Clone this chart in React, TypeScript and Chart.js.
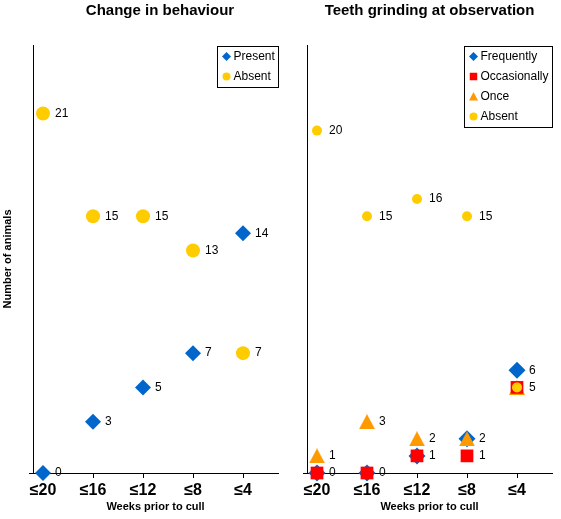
import { useEffect, useRef } from "react"
import { Chart, registerables } from "chart.js"

Chart.register(...registerables)

const FONT = "'Liberation Sans', Arial, Helvetica, sans-serif"
Chart.defaults.font.family = FONT
Chart.defaults.color = "#000"

const weeks = ["≤20", "≤16", "≤12", "≤8", "≤4"]

// Change in behaviour
const behaviourPresent = [0, 3, 5, 7, 14]
const behaviourAbsent = [21, 15, 15, 13, 7]

// Teeth grinding at observation
const grindingFrequently = [0, 0, 1, 2, 6]
const grindingOccasionally = [0, 0, 1, 1, 5]
const grindingOnce = [1, 3, 2, 2, 5]
const grindingAbsent = [20, 15, 16, 15, 5]

const yMax = 25

type Marker = "diamond" | "square" | "triangle" | "circle"

interface Series {
  label: string
  values: number[]
  color: string
  marker: Marker
  radius: number
  z: number // lower = drawn on top
}

const BLUE = "#0066CC"
const RED = "#FF0000"
const ORANGE = "#FF9900"
const YELLOW = "#FFCC00"

const behaviourSeries: Series[] = [
  { label: "Present", values: behaviourPresent, color: BLUE, marker: "diamond", radius: 8, z: 1 },
  { label: "Absent", values: behaviourAbsent, color: YELLOW, marker: "circle", radius: 7, z: 0 },
]

const grindingSeries: Series[] = [
  { label: "Frequently", values: grindingFrequently, color: BLUE, marker: "diamond", radius: 8.5, z: 3 },
  { label: "Occasionally", values: grindingOccasionally, color: RED, marker: "square", radius: 9, z: 1 },
  { label: "Once", values: grindingOnce, color: ORANGE, marker: "triangle", radius: 8.5, z: 2 },
  { label: "Absent", values: grindingAbsent, color: YELLOW, marker: "circle", radius: 5, z: 0 },
]

// centred triangle, so the point sits in the middle of the glyph
function triangleImage(w: number, h: number, color: string) {
  const c = document.createElement("canvas")
  c.width = w
  c.height = h
  const g = c.getContext("2d")!
  g.fillStyle = color
  g.beginPath()
  g.moveTo(w / 2, 0)
  g.lineTo(w, h)
  g.lineTo(0, h)
  g.closePath()
  g.fill()
  return c
}

function drawLegendMarker(ctx: CanvasRenderingContext2D, marker: Marker, x: number, y: number, color: string) {
  ctx.fillStyle = color
  ctx.beginPath()
  if (marker === "diamond") {
    ctx.moveTo(x, y - 4.5)
    ctx.lineTo(x + 4.5, y)
    ctx.lineTo(x, y + 4.5)
    ctx.lineTo(x - 4.5, y)
  } else if (marker === "square") {
    ctx.rect(x - 3.75, y - 3.75, 7.5, 7.5)
  } else if (marker === "triangle") {
    ctx.moveTo(x, y - 4.5)
    ctx.lineTo(x + 4.5, y + 4)
    ctx.lineTo(x - 4.5, y + 4)
  } else {
    ctx.arc(x, y, 4, 0, Math.PI * 2)
  }
  ctx.closePath()
  ctx.fill()
}

interface PanelProps {
  title: string
  titleShift: number
  yTitle?: string
  series: Series[]
  width: number
  height: number
  yAxisWidth: number
  rightPad: number
}

function Panel({ title, titleShift, yTitle, series, width, height, yAxisWidth, rightPad }: PanelProps) {
  const canvasRef = useRef<HTMLCanvasElement>(null)

  useEffect(() => {
    if (!canvasRef.current) return
    const ctx = canvasRef.current.getContext("2d")
    if (!ctx) return

    const pointStyles = series.map((s) => {
      if (s.marker === "triangle") return triangleImage(16, 15, s.color)
      if (s.marker === "diamond") return "rectRot"
      if (s.marker === "square") return "rect"
      return "circle"
    })

    const overlay = {
      id: "overlay",
      afterDatasetsDraw(chart: any) {
        const c = chart.ctx
        c.save()
        c.font = `12px ${FONT}`
        c.fillStyle = "#000"
        c.textAlign = "left"
        c.textBaseline = "middle"
        // one value label per distinct value in each week group
        weeks.forEach((_, i) => {
          const seen = new Set<number>()
          chart.data.datasets.forEach((ds: any, d: number) => {
            const v = ds.data[i].y
            if (seen.has(v)) return
            seen.add(v)
            const el = chart.getDatasetMeta(d).data[i]
            c.fillText(String(v), el.x + 12, el.y)
          })
        })
        c.restore()
      },
      afterDraw(chart: any) {
        const c = chart.ctx
        const area = chart.chartArea
        c.save()

        // title
        c.font = `bold 15px ${FONT}`
        c.fillStyle = "#000"
        c.textAlign = "center"
        c.textBaseline = "alphabetic"
        c.fillText(title, (area.left + area.right) / 2 + titleShift, 15)

        // x axis stub to the left of the y axis
        c.strokeStyle = "#000"
        c.lineWidth = 1
        c.beginPath()
        c.moveTo(area.left - 4, Math.round(area.bottom) + 0.5)
        c.lineTo(area.left, Math.round(area.bottom) + 0.5)
        c.stroke()

        // legend box
        c.font = `12px ${FONT}`
        const textW = Math.max(...series.map((s) => c.measureText(s.label).width))
        const boxW = Math.round(16 + textW + 4)
        const boxH = 20 * series.length + 1
        const right = Math.round(area.right) + 0.5
        const left = right - boxW
        const top = Math.round(area.top) + 1.5
        c.fillStyle = "#fff"
        c.fillRect(left, top, boxW, boxH)
        c.strokeRect(left, top, boxW, boxH)
        c.textAlign = "left"
        c.textBaseline = "middle"
        series.forEach((s, i) => {
          const y = top + 10 + 20 * i
          drawLegendMarker(c, s.marker, left + 9, y, s.color)
          c.fillStyle = "#000"
          c.fillText(s.label, left + 16, y)
        })
        c.restore()
      },
    }

    const chart = new Chart(ctx, {
      type: "scatter",
      data: {
        datasets: series.map((s, si) => ({
          label: s.label,
          data: s.values.map((v, i) => ({ x: i, y: v })),
          backgroundColor: s.color,
          borderWidth: 0,
          pointStyle: pointStyles[si] as any,
          pointRadius: s.radius,
          pointHoverRadius: s.radius,
          order: s.z,
          clip: false as any,
        })),
      },
      options: {
        responsive: true,
        maintainAspectRatio: false,
        animation: false,
        events: [],
        layout: { padding: { top: 45, right: rightPad, left: 0, bottom: 0 } },
        plugins: {
          legend: { display: false },
          tooltip: { enabled: false },
          title: { display: false },
        },
        scales: {
          x: {
            type: "linear",
            min: -0.2,
            max: 4.7,
            afterBuildTicks: (scale: any) => {
              scale.ticks = weeks.map((_, i) => ({ value: i }))
            },
            afterFit: (scale: any) => {
              scale.height = 46
            },
            ticks: {
              callback: (value: any) => weeks[value as number],
              font: { size: 16, weight: "bold" },
              color: "#000",
              padding: 3,
              maxRotation: 0,
              autoSkip: false,
            },
            grid: { drawOnChartArea: false, drawTicks: true, tickLength: 5, color: "#000" },
            border: { display: true, color: "#000", width: 1 },
            title: {
              display: true,
              text: "Weeks prior to cull",
              font: { size: 11, weight: "bold" },
              color: "#000",
              padding: { top: 0, bottom: 5 },
            },
          },
          y: {
            min: 0,
            max: yMax,
            ticks: { display: false },
            grid: { display: false },
            border: { display: true, color: "#000", width: 1 },
            afterFit: (scale: any) => {
              scale.width = yAxisWidth
            },
            title: {
              display: !!yTitle,
              text: yTitle ?? "",
              font: { size: 11, weight: "bold" },
              color: "#000",
              padding: { top: 1, bottom: 0 },
            },
          },
        },
      },
      plugins: [overlay],
    })

    return () => {
      chart.destroy()
    }
  }, [])

  return (
    <div style={{ position: "relative", width, height }}>
      <canvas ref={canvasRef}></canvas>
    </div>
  )
}

export default function App() {
  return (
    <div
      style={{
        position: "fixed",
        left: 0,
        top: 0,
        width: 561,
        height: 519,
        background: "#fff",
        display: "flex",
      }}
    >
      <Panel
        title="Change in behaviour"
        titleShift={4.5}
        yTitle="Number of animals"
        series={behaviourSeries}
        width={290}
        height={519}
        yAxisWidth={33}
        rightPad={12}
      />
      <Panel
        title="Teeth grinding at observation"
        titleShift={0}
        series={grindingSeries}
        width={271}
        height={519}
        yAxisWidth={17}
        rightPad={9}
      />
    </div>
  )
}
